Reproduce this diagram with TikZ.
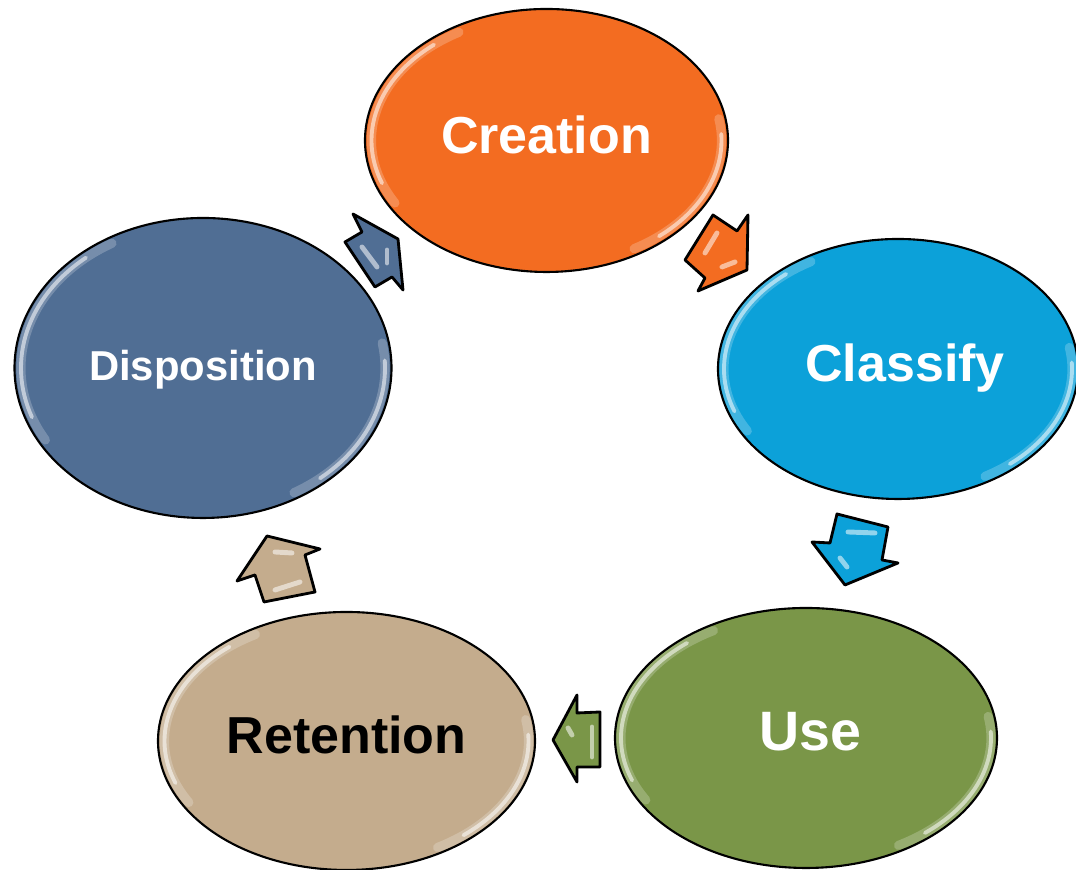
\documentclass[tikz,border=0pt]{standalone}
\usepackage{fontspec}
\setmainfont{Liberation Sans}
\usepackage{tikz}
\usetikzlibrary{shapes.geometric}

\definecolor{creation}{RGB}{243,108,33}
\definecolor{classify}{RGB}{12,161,217}
\definecolor{use}{RGB}{122,150,72}
\definecolor{retention}{RGB}{196,172,141}
\definecolor{disposition}{RGB}{80,110,148}

\begin{document}
\begin{tikzpicture}
[stage/.style={ellipse,draw=black,line width=.6pt,inner sep=0pt,text height=.72em,text depth=0pt},
 blockarrow/.style={draw=black,line width=.8pt,line join=round},
 gloss/.style={white,opacity=.55,line width=1.1pt,line cap=round},
 haze/.style={white,opacity=.22,line width=2.6pt,line cap=round}]
\useasboundingbox (0,0) rectangle (10.76,8.70);

\node[stage,fill=creation,text=white,minimum width=3.63cm,minimum height=2.63cm,font=\bfseries\fontsize{14.8}{16}\selectfont] (s1) at (5.465,7.295) {Creation};
\node[stage,fill=classify,text=white,minimum width=3.6cm,minimum height=2.6cm,font=\bfseries\fontsize{14.8}{16}\selectfont] (s2) at (8.98,5.01) {\hspace*{.14cm}Classify};
\node[stage,fill=use,text=white,minimum width=3.82cm,minimum height=2.6cm,font=\bfseries\fontsize{15.8}{17}\selectfont] (s3) at (8.06,1.32) {\hspace*{.08cm}Use};
\node[stage,fill=retention,text=black,minimum width=3.77cm,minimum height=2.58cm,font=\bfseries\fontsize{14.8}{16}\selectfont] (s4) at (3.465,1.29) {Retention};
\node[stage,fill=disposition,text=white,minimum width=3.77cm,minimum height=3cm,font=\bfseries\fontsize{11.9}{13}\selectfont] (s5) at (2.03,5.02) {Disposition};

% shine along the rims
\foreach \n/\rx/\ry in {s1/1.75/1.25,s2/1.74/1.24,s3/1.85/1.24,s4/1.82/1.23,s5/1.82/1.44}
{
\draw[haze] ([shift={(120:\rx\space and \ry)}]\n.center) arc[start angle=120,end angle=210,x radius=\rx,y radius=\ry];
\draw[haze] ([shift={(10:\rx\space and \ry)}]\n.center) arc[start angle=10,end angle=-60,x radius=\rx,y radius=\ry];
\draw[gloss] ([shift={(130:\rx\space and \ry)}]\n.center) arc[start angle=130,end angle=200,x radius=\rx,y radius=\ry];
\draw[gloss] ([shift={(3:\rx\space and \ry)}]\n.center) arc[start angle=3,end angle=-50,x radius=\rx,y radius=\ry];
}

% arrows round the cycle
\draw[blockarrow,fill=disposition] (3.53,6.56) -- (3.98,6.31) -- (4.03,5.80) -- (3.92,5.93) -- (3.75,5.83) -- (3.45,6.28) -- (3.62,6.38) -- cycle;
\draw[blockarrow,fill=creation] (7.48,6.55) -- (7.47,6.00) -- (6.98,5.79) -- (7.05,5.92) -- (6.85,6.10) -- (7.13,6.55) -- (7.37,6.39) -- cycle;
\draw[blockarrow,fill=classify] (8.37,3.56) -- (8.88,3.43) -- (8.82,3.10) -- (8.98,3.07) -- (8.45,2.85) -- (8.12,3.28) -- (8.30,3.27) -- cycle;
\draw[blockarrow,fill=use] (5.53,1.30) -- (5.77,1.75) -- (5.77,1.57) -- (6.00,1.58) -- (6.00,1.03) -- (5.77,1.03) -- (5.77,0.88) -- cycle;
\draw[blockarrow,fill=retention] (2.37,2.89) -- (2.67,3.34) -- (3.20,3.21) -- (3.05,3.15) -- (3.15,2.78) -- (2.64,2.68) -- (2.55,2.95) -- cycle;

% highlights on the arrows
\foreach \a/\b in {{3.62,6.23}/{3.77,6.03},{3.87,6.20}/{3.87,6.07},{7.17,6.37}/{7.05,6.17},{7.22,6.03}/{7.35,6.08},{8.48,3.38}/{8.75,3.37},{8.40,3.12}/{8.47,3.03},{5.68,1.42}/{5.72,1.35},{5.92,1.43}/{5.92,1.13},{2.75,3.18}/{2.92,3.17},{2.75,2.80}/{3.00,2.88}}
\draw[gloss,line width=1.4pt] (\a) -- (\b);
\end{tikzpicture}
\end{document}
